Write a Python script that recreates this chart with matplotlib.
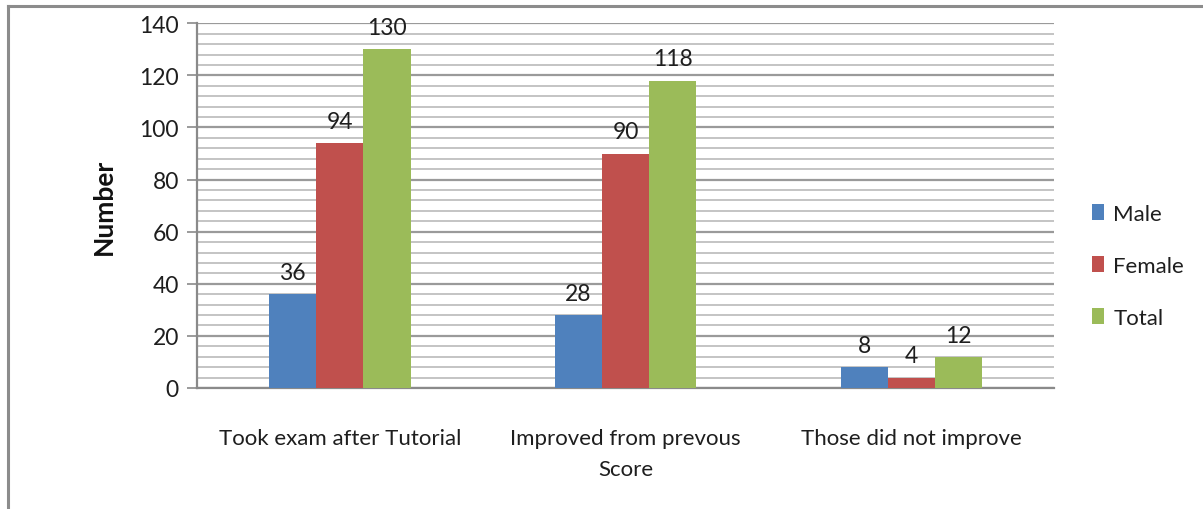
import matplotlib.pyplot as plt
from matplotlib.lines import Line2D
import numpy as np

categories = ["Took exam after Tutorial", "Improved from prevous\nScore", "Those did not improve"]
series_names = ["Male", "Female", "Total"]
male = [36, 28, 8]
female = [94, 90, 4]
total = [130, 118, 12]
colors = ["#4F81BD", "#C0504D", "#9BBB59"]

plt.rcParams["font.family"] = ["Lato", "DejaVu Sans"]

fig = plt.figure(figsize=(12.03, 5.10), dpi=100)
ax = fig.add_axes([0.1638, 0.2373, 0.7124, 0.7151])

x = np.arange(len(categories))
w = 0.165
for i, (vals, name, c) in enumerate(zip([male, female, total], series_names, colors)):
    bars = ax.bar(x + (i - 1) * w, vals, w, color=c, label=name, zorder=3)
    for b, v in zip(bars, vals):
        ax.annotate(str(v), (b.get_x() + b.get_width() / 2, v), xytext=(0, 8),
                    textcoords="offset points", ha="center", va="bottom",
                    fontsize=16.5, color="#1e1e1e", zorder=4)

ax.set_xlim(-0.5, 2.5)
ax.set_ylim(0, 140)
ax.set_yticks(np.arange(0, 141, 20))
ax.set_yticks(np.arange(0, 141, 4), minor=True)
ax.grid(axis="y", which="major", color="#9a9a9a", linewidth=1.6, zorder=0)
ax.grid(axis="y", which="minor", color="#c4c4c4", linewidth=1.4, zorder=0)
ax.tick_params(axis="y", which="major", length=7, width=1.2, color="#8a8a8a",
               labelsize=16.5, labelcolor="#1e1e1e", pad=6)
ax.tick_params(axis="y", which="minor", length=0)
ax.tick_params(axis="x", length=0, labelsize=16, labelcolor="#1e1e1e", pad=29)
ax.set_xticks(x)
ax.set_xticklabels(categories, linespacing=1.65)

for s in ["top", "right"]:
    ax.spines[s].set_visible(False)
for s in ["left", "bottom"]:
    ax.spines[s].set_color("#8a8a8a")
    ax.spines[s].set_linewidth(1.6)

ax.set_ylabel("Number", fontsize=19, fontweight="bold", color="#111111", labelpad=17)

ax.legend(loc="center left", bbox_to_anchor=(1.021, 0.335), frameon=False,
          fontsize=16, handlelength=0.55, handleheight=0.7, handletextpad=0.4,
          labelspacing=1.45, labelcolor="#1e1e1e")

# outer chart frame: top and left edges only
fig.add_artist(Line2D([0.0066, 1.0], [0.986, 0.986], color="#8c8c8c", linewidth=2.2))
fig.add_artist(Line2D([0.0066, 0.0066], [0.0, 0.986], color="#8c8c8c", linewidth=2.2))

fig.savefig("out.png", dpi=100)
